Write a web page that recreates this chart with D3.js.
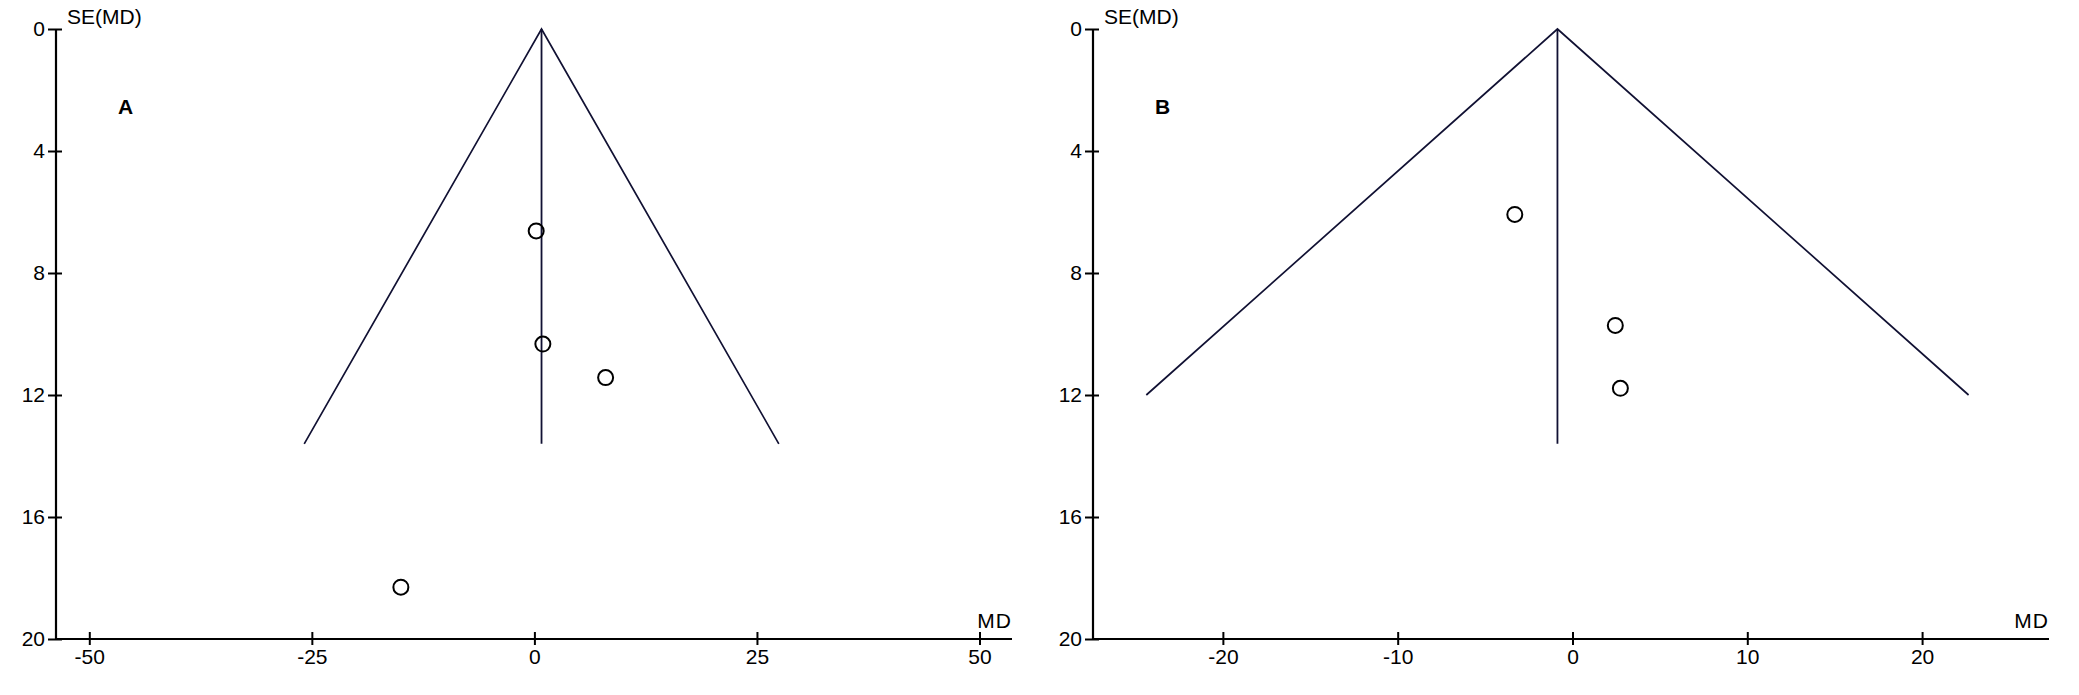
<!DOCTYPE html>
<html>
<head>
<meta charset="utf-8">
<script src="https://cdn.jsdelivr.net/npm/d3@7"></script>
<style>
  html, body { margin: 0; padding: 0; background: #fff; }
  svg { display: block; }
  text { font-family: "Liberation Sans", Arial, sans-serif; fill: #000; }
</style>
</head>
<body>
<svg id="chart" width="2079" height="695"></svg>
<script>
// ---- Data ----
// Panel A
const panelA_label = "A";
const panelA_md = [0.2, 0.95, 8.0, -15.0];
const panelA_se = [6.62, 10.33, 11.43, 18.3];
const panelA_pooled = 0.8;
const panelA_funnelMaxSE = 13.6;
const panelA_lineMaxSE = 13.6;
const panelA_xTicks = [-50, -25, 0, 25, 50];

// Panel B
const panelB_label = "B";
const panelB_md = [-3.3, 2.45, 2.74];
const panelB_se = [6.08, 9.72, 11.78];
const panelB_pooled = -0.86;
const panelB_funnelMaxSE = 12.0;
const panelB_lineMaxSE = 13.6;
const panelB_xTicks = [-20, -10, 0, 10, 20];

const yTicks = [0, 4, 8, 12, 16, 20];
const yAxisTitle = "SE(MD)";
const xAxisTitle = "MD";

// ---- Drawing ----
const svg = d3.select("#chart");
const y = d3.scaleLinear().domain([0, 20]).range([29, 639]);
const fmt = d => String(d);

function drawPanel(cfg) {
  const g = svg.append("g");
  const x = d3.scaleLinear().domain(cfg.domain).range(cfg.range);
  const x0 = cfg.range[0], x1 = cfg.range[1];

  // Y axis
  const yAx = g.append("g").attr("transform", `translate(${x0},0)`)
    .call(d3.axisLeft(y).tickValues(yTicks).tickFormat(fmt).tickSize(8).tickPadding(4));
  yAx.select(".domain").remove();
  yAx.selectAll(".tick line").attr("x1", -8).attr("x2", 6).attr("stroke", "#000").attr("stroke-width", 2);
  yAx.selectAll(".tick text").attr("font-size", 21).attr("font-family", "Liberation Sans, Arial, sans-serif").attr("x", -11);
  g.append("line").attr("x1", x0).attr("x2", x0).attr("y1", y(0)).attr("y2", y(20))
    .attr("stroke", "#000").attr("stroke-width", 2.2);

  // X axis
  const xAx = g.append("g").attr("transform", `translate(0,${y(20)})`)
    .call(d3.axisBottom(x).tickValues(cfg.xTicks).tickFormat(fmt).tickSize(6).tickPadding(4));
  xAx.select(".domain").remove();
  xAx.selectAll(".tick line").attr("y1", -7).attr("y2", 6).attr("stroke", "#000").attr("stroke-width", 2);
  xAx.selectAll(".tick text").attr("font-size", 21).attr("font-family", "Liberation Sans, Arial, sans-serif");
  g.append("line").attr("x1", x0).attr("x2", x1).attr("y1", y(20)).attr("y2", y(20))
    .attr("stroke", "#000").attr("stroke-width", 2.2);

  // Titles
  g.append("text").attr("x", x0 + 11).attr("y", y(0) - 5).attr("font-size", 21).text(yAxisTitle);
  g.append("text").attr("x", x1).attr("y", y(20) - 11).attr("text-anchor", "end").attr("font-size", 21)
    .attr("letter-spacing", 1).text(xAxisTitle);
  g.append("text").attr("x", x0 + 62).attr("y", y(0) + 85).attr("font-size", 21).attr("font-weight", "bold").text(cfg.label);

  // Funnel
  const funnel = [
    [cfg.pooled - 1.96 * cfg.funnelMaxSE, cfg.funnelMaxSE],
    [cfg.pooled, 0],
    [cfg.pooled + 1.96 * cfg.funnelMaxSE, cfg.funnelMaxSE]
  ];
  g.append("path").attr("d", d3.line().x(d => x(d[0])).y(d => y(d[1]))(funnel))
    .attr("fill", "none").attr("stroke", "#111133").attr("stroke-width", 1.7);
  g.append("line").attr("x1", x(cfg.pooled)).attr("x2", x(cfg.pooled))
    .attr("y1", y(0)).attr("y2", y(cfg.lineMaxSE))
    .attr("stroke", "#111133").attr("stroke-width", 1.8);

  // Points
  const pts = cfg.md.map((m, i) => ({ m, s: cfg.se[i] }));
  g.selectAll("circle.pt").data(pts).enter().append("circle")
    .attr("class", "pt")
    .attr("cx", d => x(d.m)).attr("cy", d => y(d.s)).attr("r", 7.5)
    .attr("fill", "none").attr("stroke", "#000").attr("stroke-width", 2);
}

drawPanel({
  label: panelA_label, md: panelA_md, se: panelA_se, pooled: panelA_pooled,
  funnelMaxSE: panelA_funnelMaxSE, lineMaxSE: panelA_lineMaxSE, xTicks: panelA_xTicks,
  domain: [-53.74, 53.65], range: [56, 1012]
});
drawPanel({
  label: panelB_label, md: panelB_md, se: panelB_se, pooled: panelB_pooled,
  funnelMaxSE: panelB_funnelMaxSE, lineMaxSE: panelB_lineMaxSE, xTicks: panelB_xTicks,
  domain: [-27.43, 27.26], range: [1093, 2049]
});
</script>
</body>
</html>
